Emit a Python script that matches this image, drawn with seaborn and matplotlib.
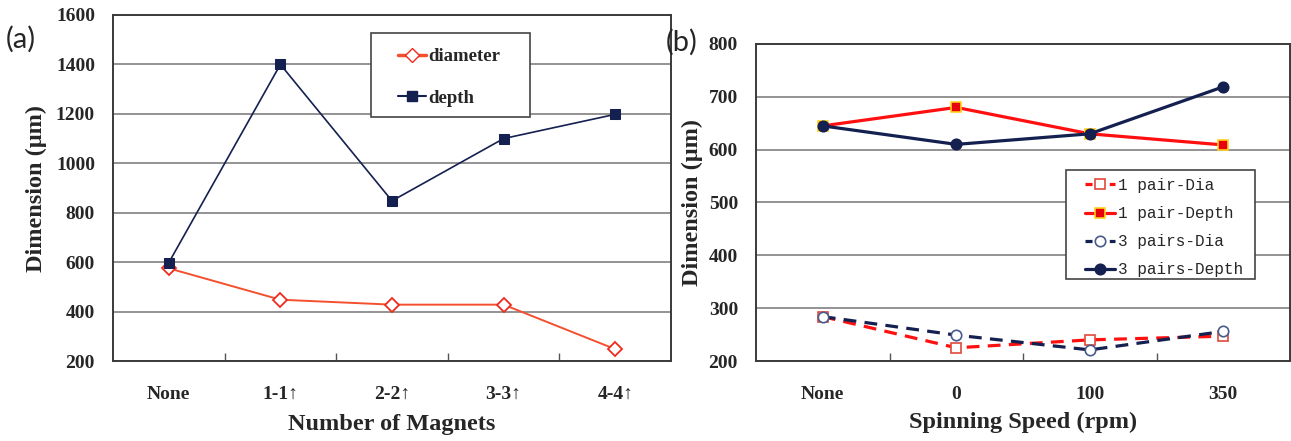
import seaborn as sns
import pandas as pd
import matplotlib.pyplot as plt
from matplotlib.ticker import FixedLocator, MultipleLocator
from matplotlib.lines import Line2D
from matplotlib.patches import Rectangle

# panel (a) data
magnets = ["None", "1-1\u2191", "2-2\u2191", "3-3\u2191", "4-4\u2191"]
diameter = [575, 448, 428, 428, 248]
depth = [598, 1400, 848, 1100, 1198]

# panel (b) data
speeds = ["None", "0", "100", "350"]
pair1_dia = [284, 225, 240, 247]
pair1_depth = [645, 680, 630, 609]
pair3_dia = [284, 249, 221, 256]
pair3_depth = [645, 610, 630, 719]

sns.set_theme(style="white")
plt.rcParams["font.family"] = ["Liberation Serif", "DejaVu Serif"]

W, H = 1291, 441
fig = plt.figure(figsize=(W / 100, H / 100), dpi=100)
ax_a = fig.add_axes([113 / W, 1 - 361 / H, 558 / W, 346 / H])
ax_b = fig.add_axes([756 / W, 1 - 361 / H, 534 / W, 317 / H])

NAVY = "#14204f"
RED_A = "#f4502e"
RED_B = "#ff1010"
GRID = "#8a8a8a"

df_a = pd.DataFrame({"magnets": magnets, "diameter": diameter, "depth": depth})

sns.lineplot(data=df_a, x="magnets", y="diameter", ax=ax_a, color=RED_A,
             linewidth=1.4, marker="D", markersize=7.5, markerfacecolor="white",
             markeredgecolor="#ee2a1c", markeredgewidth=1.3, sort=False)
sns.lineplot(data=df_a, x="magnets", y="depth", ax=ax_a, color=NAVY,
             linewidth=1.2, marker="s", markersize=7.5, markerfacecolor=NAVY,
             markeredgecolor=NAVY, sort=False)

df_b = pd.DataFrame({"speed": speeds, "p1dia": pair1_dia, "p1dep": pair1_depth,
                     "p3dia": pair3_dia, "p3dep": pair3_depth})

series_b = [
    ("p1dia", "1 pair-Dia", RED_B, (4, 2.6), "s", "white", "#e0483a"),
    ("p1dep", "1 pair-Depth", RED_B, None, "s", "#e8000c", "#ffd21a"),
    ("p3dia", "3 pairs-Dia", NAVY, (4, 2.6), "o", "white", "#4a5a8a"),
    ("p3dep", "3 pairs-Depth", NAVY, None, "o", NAVY, NAVY),
]
handles_b = []
for col, label, color, dash, mk, fc, ec in series_b:
    kw = dict(color=color, linewidth=2.3, marker=mk, markersize=7.5,
              markerfacecolor=fc, markeredgecolor=ec, markeredgewidth=1.2)
    if dash is not None:
        kw["dashes"] = dash
    sns.lineplot(data=df_b, x="speed", y=col, ax=ax_b, sort=False, **kw)
    hkw = {k: v for k, v in kw.items() if k != "dashes"}
    if dash is not None:
        hkw["linestyle"] = (0, (2.2, 1.6))
    handles_b.append((Line2D([], [], **hkw), label))

for ax, ncat, ylim, step in [(ax_a, len(magnets), (200, 1600), 200),
                             (ax_b, len(speeds), (200, 800), 100)]:
    ax.set_xlim(-0.5, ncat - 0.5)
    ax.set_ylim(*ylim)
    ax.yaxis.set_major_locator(MultipleLocator(step))
    ax.xaxis.set_minor_locator(FixedLocator([i + 0.5 for i in range(ncat - 1)]))
    ax.grid(axis="y", color=GRID, linewidth=1.3)
    ax.set_axisbelow(True)
    ax.tick_params(axis="x", which="major", length=0, pad=18)
    ax.tick_params(axis="x", which="minor", direction="in", length=6,
                   width=1.0, color="#555555", bottom=True)
    ax.tick_params(axis="y", length=0, pad=13)
    for lab in ax.get_xticklabels() + ax.get_yticklabels():
        lab.set_fontweight("bold")
        lab.set_fontsize(14)
    for sp in ax.spines.values():
        sp.set_color("#3a3a3a")
        sp.set_linewidth(1.4)

ax_a.set_xlabel("Number of Magnets", fontsize=17.5, fontweight="bold", labelpad=8)
ax_a.set_ylabel("Dimension (\u03bcm)", fontsize=17.5, fontweight="bold", labelpad=6)
ax_b.set_xlabel("Spinning Speed (rpm)", fontsize=17.5, fontweight="bold", labelpad=6)
ax_b.set_ylabel("Dimension (\u03bcm)", fontsize=17.5, fontweight="bold", labelpad=4)

# legend boxes (drawn as plain rectangles, legends placed inside without frame)
for x0, y0, x1, y1 in [(371, 33, 530, 117), (1066, 170, 1255, 279)]:
    fig.patches.append(Rectangle((x0 / W, 1 - y1 / H), (x1 - x0) / W, (y1 - y0) / H,
                                 transform=fig.transFigure, facecolor="white",
                                 edgecolor="#444444", linewidth=1.2, zorder=3))

h_dia = Line2D([], [], color=RED_A, linewidth=2.5, marker="D", markersize=7.5,
               markerfacecolor="white", markeredgecolor="#ee2a1c")
h_dep = Line2D([], [], color=NAVY, linewidth=1.5, marker="s", markersize=7.5,
               markerfacecolor=NAVY, markeredgecolor=NAVY)
leg_a = fig.legend([h_dia, h_dep], ["diameter", "depth"], loc="upper left",
                   bbox_to_anchor=(398 / W, 1 - 48 / H), frameon=False,
                   handlelength=1.5, handletextpad=0.1, labelspacing=1.3,
                   borderpad=0, borderaxespad=0,
                   prop=dict(family="Liberation Serif", weight="bold", size=13.5))
leg_a.set_zorder(4)

leg_b = fig.legend([h for h, _ in handles_b], [l for _, l in handles_b],
                   loc="upper left", bbox_to_anchor=(1085 / W, 1 - 178 / H),
                   frameon=False, handlelength=1.9, handletextpad=0.15,
                   labelspacing=0.82, borderpad=0, borderaxespad=0,
                   prop=dict(family="Liberation Mono", size=11.5))
leg_b.set_zorder(4)

fig.text(6 / W, 1 - 39 / H, "(a)", fontsize=21, va="center", family=["Lato", "DejaVu Sans"])
fig.text(666 / W, 1 - 42 / H, "(b)", fontsize=21, va="center", family=["Lato", "DejaVu Sans"])

plt.savefig("out.png", dpi=100)
plt.close()
